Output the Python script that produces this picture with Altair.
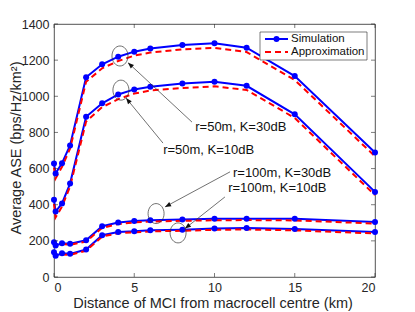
import math
import altair as alt
import pandas as pd

# ---------------- data ----------------
x_km = [0, 0.1, 0.5, 1, 2, 3, 4, 5, 6, 8, 10, 12, 15, 20]

sim_50_30 = [628, 573, 630, 728, 1105, 1177, 1219, 1247, 1265, 1284, 1293, 1269, 1112, 689]
app_50_30 = [605, 545, 610, 710, 1080, 1155, 1195, 1225, 1242, 1260, 1268, 1245, 1090, 668]
sim_50_10 = [427, 362, 407, 517, 887, 961, 1010, 1038, 1053, 1071, 1080, 1058, 900, 471]
app_50_10 = [405, 330, 390, 500, 860, 940, 984, 1015, 1032, 1046, 1055, 1035, 880, 453]
sim_100_30 = [192, 174, 187, 184, 203, 281, 301, 310, 314, 318, 322, 323, 322, 305]
app_100_30 = [185, 168, 182, 178, 196, 272, 293, 302, 307, 311, 314, 315, 313, 296]
sim_100_10 = [137, 118, 131, 128, 152, 231, 249, 253, 259, 262, 268, 271, 266, 249]
app_100_10 = [130, 112, 125, 122, 145, 224, 242, 247, 252, 256, 261, 263, 258, 241]

x_ticks = [0, 5, 10, 15, 20]
y_ticks = [0, 200, 400, 600, 800, 1000, 1200, 1400]

ann_labels = ["r=50m, K=30dB", "r=50m, K=10dB", "r=100m, K=30dB", "r=100m, K=10dB"]
ann_text_x = [8.8, 6.8, 11.15, 10.85]
ann_text_y = [829, 702, 575, 491]
circle_x = [4.11, 4.17, 6.36, 7.73]
circle_y = [1223, 1034, 351, 244]
arrow_x1 = [8.6, 6.79, 10.97, 10.65]
arrow_y1 = [857, 741, 582, 443]
arrow_x2 = [4.61, 4.49, 6.92, 8.16]
arrow_y2 = [1186, 990, 388, 268]

# ---------------- layout ----------------
W, H = 321, 253
XMAX, YMAX = 20, 1400
BLUE = "#0000FF"
RED = "#FF0000"
FONT = "Liberation Sans"
TXT = "#262626"

rows = []
series = [
    ("50_30", "Simulation", sim_50_30), ("50_30", "Approximation", app_50_30),
    ("50_10", "Simulation", sim_50_10), ("50_10", "Approximation", app_50_10),
    ("100_30", "Simulation", sim_100_30), ("100_30", "Approximation", app_100_30),
    ("100_10", "Simulation", sim_100_10), ("100_10", "Approximation", app_100_10),
]
for sid, typ, vals in series:
    for xv, yv in zip(x_km, vals):
        rows.append({"x": xv, "y": yv, "series": sid + typ, "type": typ})
df = pd.DataFrame(rows)
sim_df = df[df["type"] == "Simulation"]
app_df = df[df["type"] == "Approximation"]

xs = alt.Scale(domain=[0, XMAX], nice=False, zero=False)
ys = alt.Scale(domain=[0, YMAX], nice=False)

xax = alt.Axis(values=x_ticks, title="Distance of MCI from macrocell centre (km)",
               grid=False, tickSize=0, labelPadding=4,
               titleX=W / 2 - 2, titleY=26, titleBaseline="middle", titleAlign="center",
               domain=False, format="d", labelOverlap=False)
yax = alt.Axis(values=y_ticks, title="Average ASE (bps/Hz/km²)",
               grid=False, tickSize=0, labelPadding=5,
               titleX=-38, titleY=H / 2 - 3, titleAngle=270, titleBaseline="middle",
               titleAlign="center",
               domain=False, format="d", labelOverlap=False)


def X(f):
    return alt.X(f + ":Q", scale=xs, axis=xax)


def Y(f):
    return alt.Y(f + ":Q", scale=ys, axis=yax)


sim_line = alt.Chart(sim_df).mark_line(color=BLUE, strokeWidth=2).encode(
    x=X("x"), y=Y("y"), detail="series:N")
app_line = alt.Chart(app_df).mark_line(color=RED, strokeWidth=2, strokeDash=[6, 4]).encode(
    x=X("x"), y=Y("y"), detail="series:N")
sim_pts = alt.Chart(sim_df).mark_point(shape="circle", filled=True, color=BLUE,
                                       size=36, opacity=1).encode(x=X("x"), y=Y("y"))

# inward ticks (box style)
xt = pd.DataFrame({"x": x_ticks})
yt = pd.DataFrame({"y": y_ticks})
tick_style = dict(color="#262626", strokeWidth=0.6)
tb = alt.Chart(xt).mark_rule(**tick_style).encode(x=X("x"), y=alt.value(H), y2=alt.value(H - 4))
tt = alt.Chart(xt).mark_rule(**tick_style).encode(x=X("x"), y=alt.value(0), y2=alt.value(4))
tl = alt.Chart(yt).mark_rule(**tick_style).encode(y=Y("y"), x=alt.value(0), x2=alt.value(4))
tr = alt.Chart(yt).mark_rule(**tick_style).encode(y=Y("y"), x=alt.value(W), x2=alt.value(W - 4))

# annotations
ann = pd.DataFrame({
    "label": ann_labels, "tx": ann_text_x, "ty": ann_text_y,
    "cx": circle_x, "cy": circle_y,
    "x1": arrow_x1, "y1": arrow_y1, "x2": arrow_x2, "y2": arrow_y2,
})
angles = []
for a, b, c, d in zip(arrow_x1, arrow_y1, arrow_x2, arrow_y2):
    dx = (c - a) * W / XMAX
    dy = -(d - b) * H / YMAX
    angles.append(math.degrees(math.atan2(dx, -dy)) % 360)
ann["ang"] = angles

ann_text = alt.Chart(ann).mark_text(align="left", baseline="middle", font=FONT,
                                    fontSize=13, color="#111").encode(
    x=X("tx"), y=Y("ty"), text="label:N")
ellipse = "M -0.8 0 A 0.8 1 0 1 0 0.8 0 A 0.8 1 0 1 0 -0.8 0 Z"
ann_circ = alt.Chart(ann).mark_point(shape=ellipse, filled=False, color="#333",
                                     strokeWidth=0.7, size=400, opacity=1).encode(
    x=X("cx"), y=Y("cy"))
ann_line = alt.Chart(ann).mark_rule(color="#333", strokeWidth=0.7).encode(
    x=X("x1"), y=Y("y1"), x2="x2:Q", y2="y2:Q")
head = "M 0 0 L -0.4 1 L 0.4 1 Z"
ann_head = alt.Chart(ann).mark_point(shape=head, filled=True, color="#111",
                                     size=144, opacity=1).encode(
    x=X("x2"), y=Y("y2"), angle=alt.Angle("ang:Q", scale=None))

# manual legend
one = pd.DataFrame({"a": [0]})
LX0, LX1, LY0, LY1 = 206, 313, 8, 36
leg_box = alt.Chart(one).mark_rect(fill="white", stroke="#262626", strokeWidth=0.6).encode(
    x=alt.value(LX0), x2=alt.value(LX1), y=alt.value(LY0), y2=alt.value(LY1))
leg_l1 = alt.Chart(one).mark_rule(color=BLUE, strokeWidth=2).encode(
    x=alt.value(211), x2=alt.value(234), y=alt.value(15))
leg_p1 = alt.Chart(one).mark_point(shape="circle", filled=True, color=BLUE, size=36,
                                   opacity=1).encode(x=alt.value(222.5), y=alt.value(15))
leg_l2 = alt.Chart(one).mark_rule(color=RED, strokeWidth=2, strokeDash=[6, 4]).encode(
    x=alt.value(211), x2=alt.value(234), y=alt.value(28))
leg_t1 = alt.Chart(one).mark_text(align="left", baseline="middle", font=FONT, fontSize=11.5,
                                  color="#111", text="Simulation").encode(
    x=alt.value(237), y=alt.value(15))
leg_t2 = alt.Chart(one).mark_text(align="left", baseline="middle", font=FONT, fontSize=11.5,
                                  color="#111", text="Approximation").encode(
    x=alt.value(237), y=alt.value(28))

chart = alt.layer(
    sim_line, app_line, sim_pts, tb, tt, tl, tr,
    ann_line, ann_head, ann_circ, ann_text,
    leg_box, leg_l1, leg_p1, leg_l2, leg_t1, leg_t2,
).properties(
    width=W, height=H,
    autosize="none",
    background="white",
    padding={"left": 46, "top": 16, "right": 32, "bottom": 35},
).configure_view(
    stroke="#262626", strokeWidth=0.8
).configure_axis(
    labelFont=FONT, titleFont=FONT, labelFontSize=12.5, titleFontSize=14.5,
    labelColor=TXT, titleColor=TXT, titleFontWeight="normal",
)

chart.save("out.html", embed_options={"renderer": "svg", "actions": False})
